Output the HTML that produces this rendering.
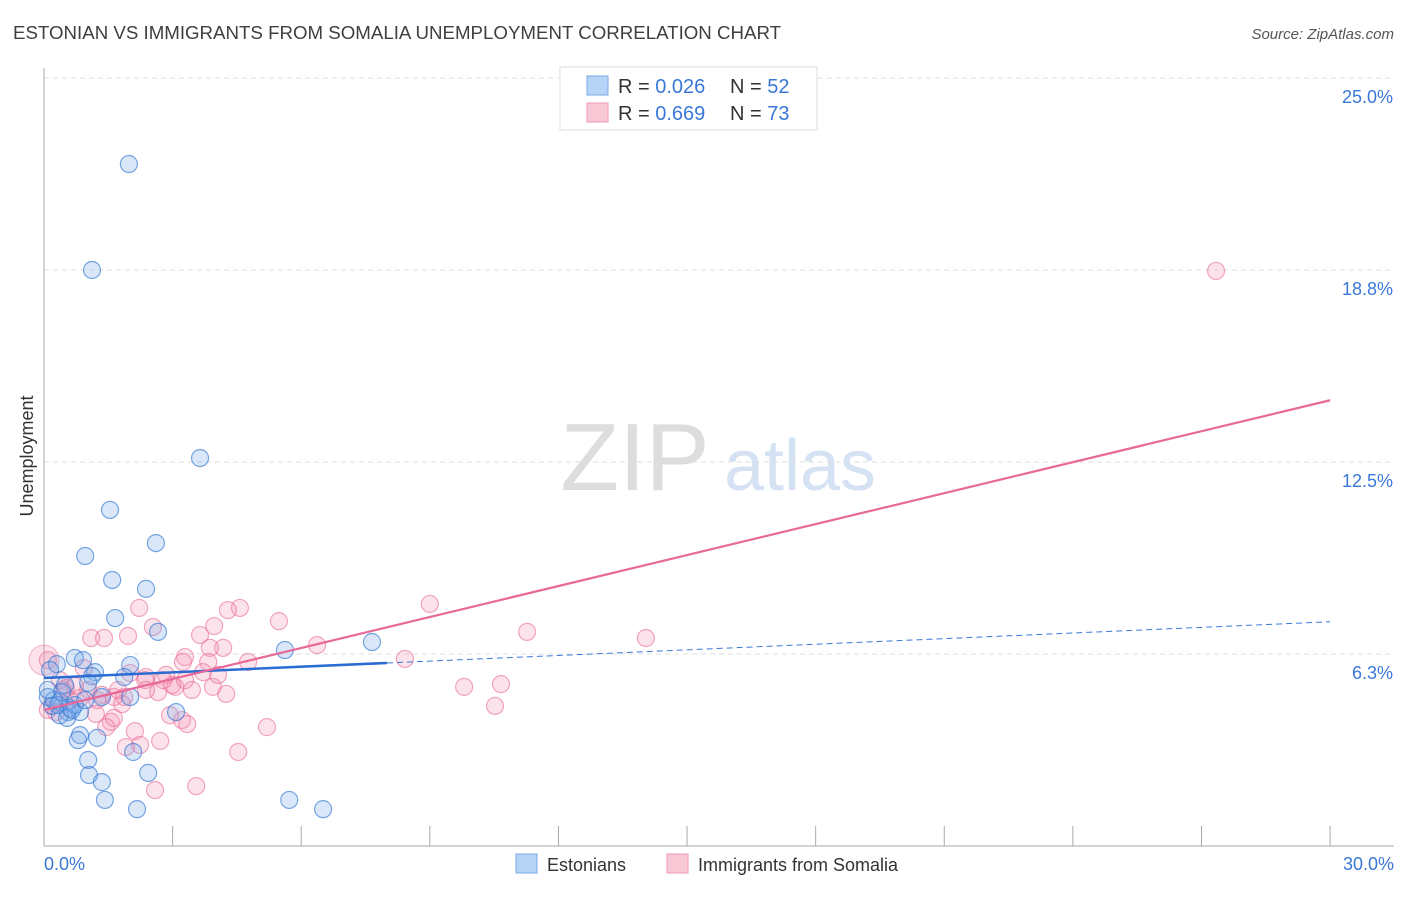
<!DOCTYPE html>
<html><head><meta charset="utf-8"><style>
body{margin:0;background:#fff;font-family:"Liberation Sans",sans-serif;}
svg text{font-family:"Liberation Sans",sans-serif;}
</style></head><body>
<svg id="chart" width="1406" height="892" xmlns="http://www.w3.org/2000/svg">
<text x="13" y="39" font-size="18.7" fill="#3c4043">ESTONIAN VS IMMIGRANTS FROM SOMALIA UNEMPLOYMENT CORRELATION CHART</text>
<text x="1394" y="39" font-size="15" fill="#555" text-anchor="end" font-style="italic">Source: ZipAtlas.com</text>
<text transform="translate(33,456) rotate(-90)" font-size="18" fill="#333" text-anchor="middle">Unemployment</text>
<g>
<text x="635" y="490" font-size="96" fill="#ddd" font-family="Liberation Serif" text-anchor="middle">ZIP</text>
<text x="800" y="490" font-size="72" fill="#d4e2f4" text-anchor="middle">atlas</text>
</g>
<g id="grid"></g>
<g id="axes"></g>
<g id="pts"></g>
<g id="trend"></g>
<g>
<rect x="560" y="67" width="257" height="63" fill="#fff" stroke="#ddd"/>
<rect x="587" y="76" width="21" height="19" fill="#b7d3f5" stroke="#7aa8e6"/>
<text x="618" y="93" font-size="20" fill="#333">R = <tspan fill="#3a78d8">0.026</tspan></text>
<text x="730" y="93" font-size="20" fill="#333">N = <tspan fill="#3a78d8">52</tspan></text>
<rect x="587" y="103" width="21" height="19" fill="#f9c8d6" stroke="#ee9ab3"/>
<text x="618" y="120" font-size="20" fill="#333">R = <tspan fill="#3a78d8">0.669</tspan></text>
<text x="730" y="120" font-size="20" fill="#333">N = <tspan fill="#3a78d8">73</tspan></text>
</g>
<g>
<rect x="516" y="854" width="21" height="19" fill="#b7d3f5" stroke="#7aa8e6"/>
<text x="547" y="871" font-size="18" fill="#333">Estonians</text>
<rect x="667" y="854" width="21" height="19" fill="#f9c8d6" stroke="#ee9ab3"/>
<text x="698" y="871" font-size="18" fill="#333">Immigrants from Somalia</text>
</g>
</svg>
<script>
const yTicks=[6.25,12.5,18.75,25.0];
const yTickLabels=["6.3%","12.5%","18.8%","25.0%"];
const xTicks=[0,3,6,9,12,15,18,21,24,27,30];
const blueX=[1.98,1.12,3.64,1.54,0.96,2.61,1.59,2.38,1.66,2.66,5.62,7.65,0.30,0.72,0.91,2.01,1.19,1.87,1.12,0.49,1.03,0.09,0.37,0.61,0.19,0.56,0.84,1.35,2.01,3.08,0.84,0.79,1.24,1.03,1.05,2.43,1.35,2.08,1.42,2.17,5.72,6.51,0.33,0.42,0.23,0.72,0.37,0.54,0.09,0.96,0.14,0.65];
const blueY=[22.2,18.75,12.63,10.94,9.44,9.86,8.66,8.37,7.42,6.97,6.38,6.64,5.92,6.12,6.05,5.89,5.66,5.50,5.53,5.24,5.31,4.85,4.69,4.49,4.56,4.36,4.36,4.85,4.85,4.36,3.61,3.45,3.52,2.80,2.31,2.38,2.08,3.06,1.50,1.20,1.50,1.20,4.59,5.01,4.75,4.59,4.26,4.17,5.08,4.75,5.73,4.43];
const pinkX=[27.34,9.0,11.27,14.04,8.42,9.80,10.66,10.52,5.48,6.37,4.57,4.29,2.22,2.54,3.97,3.64,4.18,3.87,1.10,1.40,1.96,3.29,3.83,4.76,2.85,3.24,2.38,3.06,3.94,3.45,4.06,2.66,1.87,1.35,1.63,1.03,0.72,0.37,0.09,1.82,1.21,0.61,0.28,3.22,3.34,2.94,1.56,2.12,2.71,2.24,1.91,4.53,5.20,2.59,3.55,0.51,0.84,0.19,0.44,1.24,2.36,2.99,1.63,1.45,2.01,2.78,2.38,3.71,3.29,0.93,4.25,0.09,1.73];
const pinkY=[18.72,7.88,6.97,6.77,6.09,5.18,5.27,4.56,7.32,6.54,7.75,7.68,7.75,7.13,7.16,6.87,6.45,6.45,6.77,6.77,6.84,6.15,5.99,5.99,5.57,5.99,5.50,5.18,5.18,5.08,5.57,5.01,4.85,4.92,4.85,5.08,5.21,5.40,6.05,4.62,4.30,4.75,4.36,4.10,3.97,4.26,4.04,3.74,3.42,3.29,3.22,3.06,3.87,1.82,1.95,5.14,4.82,4.56,5.08,4.75,5.40,5.24,4.17,3.87,5.63,5.40,5.08,5.66,5.40,5.79,4.95,4.43,5.08];
const blueTrend=[5.47,0.061];
const blueSolidEnd=8;
const pinkTrend=[4.43,0.336];
const NS='http://www.w3.org/2000/svg';
const X=v=>44+v*42.87, Y=v=>846-v*30.72;
function mk(t,a,p){const e=document.createElementNS(NS,t);for(const k in a)e.setAttribute(k,a[k]);p.appendChild(e);return e;}
const grid=document.getElementById('grid'),axes=document.getElementById('axes'),pts=document.getElementById('pts'),tr=document.getElementById('trend');
yTicks.forEach((v,i)=>{
 const l=mk('line',{x1:44,x2:1394,y1:Y(v),y2:Y(v),stroke:'#ddd','stroke-dasharray':'5,4'},grid);
 
 
 const t=mk('text',{x:1393,y:Y(v)+25,'font-size':18,fill:'#3a78d8','text-anchor':'end'},grid);
 t.textContent=yTickLabels[i];
 
 
});
let a=mk('line',{x1:44,x2:44,y1:68,y2:846,stroke:'#aaa'},axes);


a=mk('line',{x1:44,x2:1394,y1:846,y2:846,stroke:'#aaa'},axes);


xTicks.forEach(v=>{
 const l=mk('line',{x1:X(v),x2:X(v),y1:826,y2:846,stroke:'#aaa'},axes);
 
 
});
let t=mk('text',{x:44,y:870,'font-size':18,fill:'#3a78d8'},axes);t.textContent='0.0%';


t=mk('text',{x:1394,y:870,'font-size':18,fill:'#3a78d8','text-anchor':'end'},axes);t.textContent='30.0%';


let c=mk('circle',{cx:X(0),cy:Y(6.05),r:15,fill:'rgba(244,143,177,0.25)',stroke:'rgba(233,110,150,0.5)'},pts);


pinkX.forEach((x,i)=>{
 const e=mk('circle',{cx:X(x),cy:Y(pinkY[i]),r:8.5,fill:'rgba(244,143,177,0.25)',stroke:'rgba(233,110,150,0.6)','stroke-width':1.2},pts);
 
 
});
blueX.forEach((x,i)=>{
 const e=mk('circle',{cx:X(x),cy:Y(blueY[i]),r:8.5,fill:'rgba(120,170,235,0.28)',stroke:'rgba(50,120,210,0.65)','stroke-width':1.2},pts);
 
 
});
let L=mk('line',{x1:X(blueSolidEnd),y1:Y(blueTrend[0]+blueTrend[1]*blueSolidEnd),x2:X(30),y2:Y(blueTrend[0]+blueTrend[1]*30),stroke:'#3a78d8','stroke-width':1,'stroke-dasharray':'6,4'},tr);


L=mk('line',{x1:X(0),y1:Y(blueTrend[0]),x2:X(blueSolidEnd),y2:Y(blueTrend[0]+blueTrend[1]*blueSolidEnd),stroke:'#2a6dd2','stroke-width':2.5},tr);


L=mk('line',{x1:X(0),y1:Y(pinkTrend[0]),x2:X(30),y2:Y(pinkTrend[0]+pinkTrend[1]*30),stroke:'#e8689a','stroke-width':2.2},tr);


</script>
</body></html>
